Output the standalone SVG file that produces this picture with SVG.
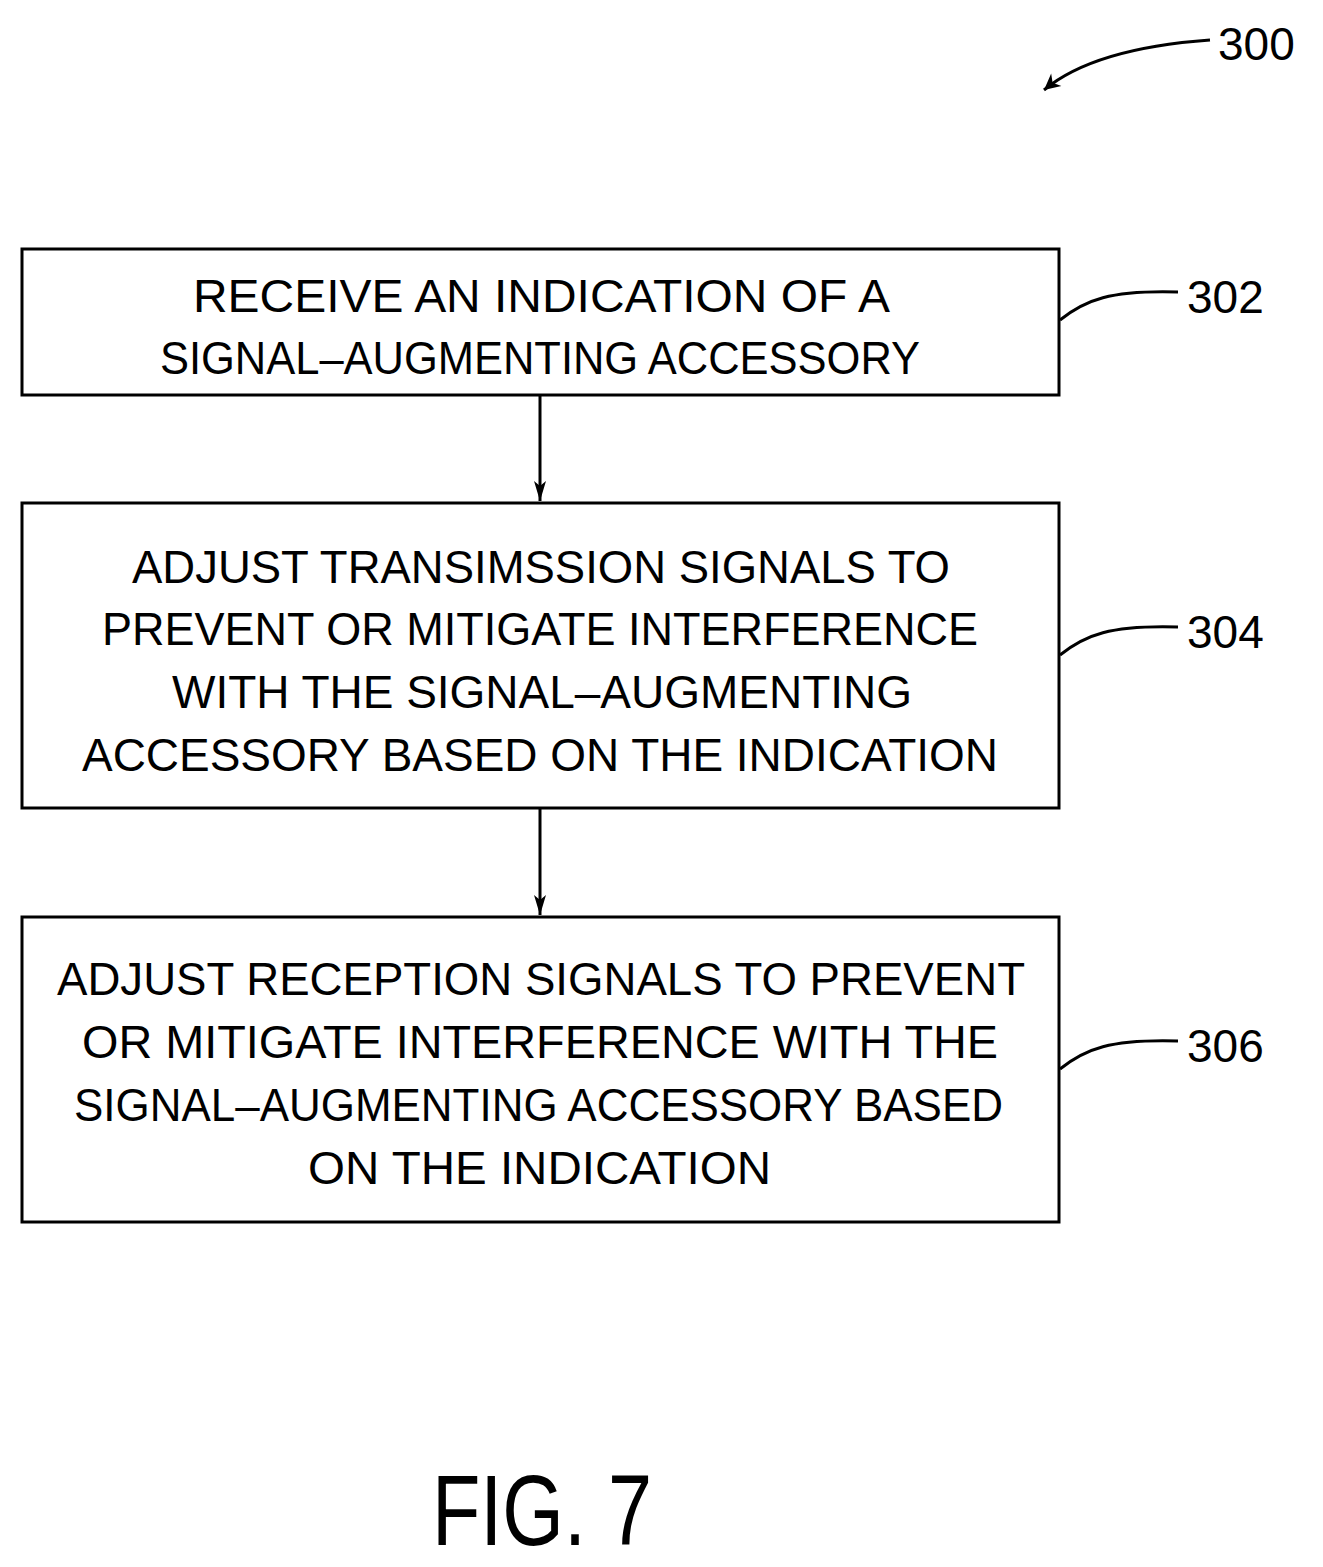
<svg xmlns="http://www.w3.org/2000/svg" width="1323" height="1567" viewBox="0 0 1323 1567">
<defs>
<style>
.box{fill:#fff;stroke:#000;stroke-width:3}
.t{font-family:"Liberation Sans",Arial,sans-serif;font-size:46px;fill:#000}
.lbl{font-family:"Liberation Sans",Arial,sans-serif;font-size:46px;fill:#000}
.ln{fill:none;stroke:#000;stroke-width:3}
</style>
<marker id="ah" viewBox="0 0 20 12" refX="20" refY="6" markerWidth="20" markerHeight="12" markerUnits="userSpaceOnUse" orient="auto">
<path d="M0,0 L20,6 L0,12 L5,6 Z" fill="#000"/>
</marker>
<marker id="ah2" viewBox="0 0 10 10" refX="10" refY="5" markerWidth="22" markerHeight="16" orient="auto" markerUnits="userSpaceOnUse">
<path d="M0,0 L10,5 L0,10 L3,5 Z" fill="#000"/>
</marker>
</defs>
<rect width="1323" height="1567" fill="#fff"/>
<g id="n302">
<rect class="box" x="22" y="249" width="1037" height="146"/>
<text class="t" x="193" y="312" textLength="697" lengthAdjust="spacingAndGlyphs">RECEIVE  AN  INDICATION  OF  A</text>
<text class="t" x="160" y="374" textLength="760" lengthAdjust="spacingAndGlyphs">SIGNAL–AUGMENTING  ACCESSORY</text>
</g>
<g id="n304">
<rect class="box" x="22" y="503" width="1037" height="305"/>
<text class="t" x="132" y="583" textLength="818" lengthAdjust="spacingAndGlyphs">ADJUST  TRANSIMSSION  SIGNALS  TO</text>
<text class="t" x="102" y="645" textLength="876" lengthAdjust="spacingAndGlyphs">PREVENT  OR  MITIGATE  INTERFERENCE</text>
<text class="t" x="172" y="708" textLength="740" lengthAdjust="spacingAndGlyphs">WITH  THE  SIGNAL–AUGMENTING</text>
<text class="t" x="82" y="771" textLength="916" lengthAdjust="spacingAndGlyphs">ACCESSORY  BASED  ON  THE  INDICATION</text>
</g>
<g id="n306">
<rect class="box" x="22" y="917" width="1037" height="305"/>
<text class="t" x="57" y="995" textLength="968" lengthAdjust="spacingAndGlyphs">ADJUST  RECEPTION  SIGNALS  TO  PREVENT</text>
<text class="t" x="82" y="1058" textLength="916" lengthAdjust="spacingAndGlyphs">OR  MITIGATE  INTERFERENCE  WITH  THE</text>
<text class="t" x="74" y="1121" textLength="929" lengthAdjust="spacingAndGlyphs">SIGNAL–AUGMENTING  ACCESSORY  BASED</text>
<text class="t" x="308" y="1184" textLength="463" lengthAdjust="spacingAndGlyphs">ON  THE  INDICATION</text>
</g>
<g id="connectors">
<line class="ln" x1="540" y1="395" x2="540" y2="501" marker-end="url(#ah)"/>
<line class="ln" x1="540" y1="808" x2="540" y2="915" marker-end="url(#ah)"/>
<path class="ln" d="M1060,320 C1085,300 1110,290 1178,292"/>
<path class="ln" d="M1060,655 C1085,635 1110,625 1178,627"/>
<path class="ln" d="M1060,1069 C1085,1049 1110,1039 1178,1041"/>
<path class="ln" d="M1210,40 C1140,45 1080,60 1044,90" marker-end="url(#ah2)"/>
</g>
<g id="labels">
<text class="lbl" x="1187" y="313">302</text>
<text class="lbl" x="1187" y="648">304</text>
<text class="lbl" x="1187" y="1062">306</text>
<text class="lbl" x="1218" y="60">300</text>
<text x="432" y="1545" font-family="Liberation Sans,Arial,sans-serif" font-size="100" textLength="220" lengthAdjust="spacingAndGlyphs">FIG. 7</text>
</g>
</svg>
